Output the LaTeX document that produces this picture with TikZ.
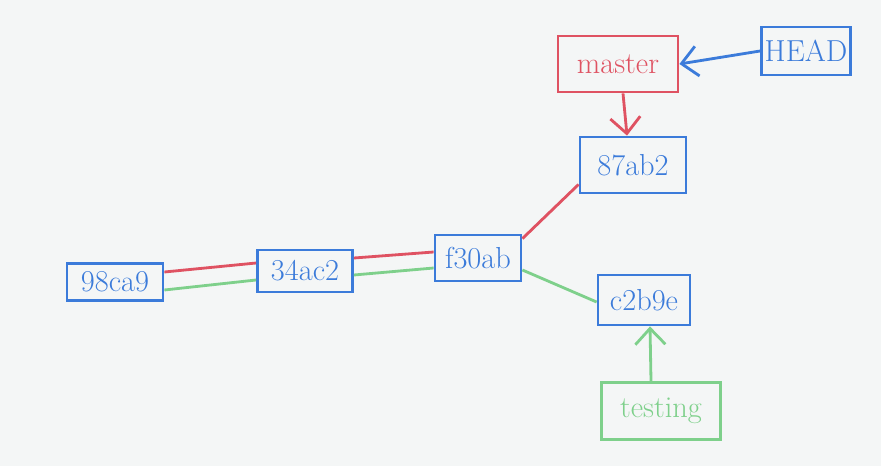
\documentclass[tikz,border=0pt]{standalone}
\usepackage{tikz}
\usetikzlibrary{arrows.meta}

\definecolor{paper}{HTML}{F4F6F6}
\definecolor{gitblue}{HTML}{3B7BDA}
\definecolor{gitred}{HTML}{DF5262}
\definecolor{gitgreen}{HTML}{7ED08B}

\begin{document}
\begin{tikzpicture}[
		x=0.02cm, y=-0.02cm,
		commit/.style ={rectangle,	draw=gitblue,	line width=1.6pt,	inner sep=0pt,	text=gitblue,	font=\LARGE},
		branch/.style ={rectangle,	draw=gitred,	line width=1.6pt,	inner sep=0pt,	text=gitred,	font=\LARGE},
		pointer/.style={line width=1.6pt,	-{Straight Barb[length=3.2mm, width=6mm]}},
	]

	% paper
	\fill [paper] (0,0) rectangle (881,466);
	\useasboundingbox (0,0) rectangle (881,466);

	% commits
	\node [commit, minimum width=1.92cm, minimum height=0.74cm] (c98ca9) at (115,282) {98ca9};
	\node [commit, minimum width=1.90cm, minimum height=0.84cm] (c34ac2) at (305,271) {34ac2};
	\node [commit, minimum width=1.72cm, minimum height=0.92cm] (cf30ab) at (478,258) {f30ab};
	\node [commit, minimum width=2.12cm, minimum height=1.12cm] (c87ab2) at (633,165) {87ab2};
	\node [commit, minimum width=1.84cm, minimum height=1.00cm] (cc2b9e) at (644,300) {c2b9e};

	% branches
	\node [branch, minimum width=2.40cm, minimum height=1.12cm] (master) at (618,64) {master};
	\node [commit, minimum width=1.78cm, minimum height=0.96cm] (head) at (806,51) {HEAD};
	\node [branch, draw=gitgreen, text=gitgreen, minimum width=2.38cm, minimum height=1.14cm] (testing) at (661,411) {testing};

	% history
	\draw [gitred, line width=1.6pt] ([yshift=0.20cm]c98ca9.east) -- ([yshift=0.16cm]c34ac2.west);
	\draw [gitgreen, line width=1.6pt] ([yshift=-0.16cm]c98ca9.east) -- ([yshift=-0.18cm]c34ac2.west);
	\draw [gitred, line width=1.6pt] ([yshift=0.26cm]c34ac2.east) -- ([yshift=0.12cm]cf30ab.west);
	\draw [gitgreen, line width=1.6pt] ([yshift=-0.08cm]c34ac2.east) -- ([yshift=-0.20cm]cf30ab.west);
	\draw [gitred, line width=1.6pt] ([yshift=-0.10cm]cf30ab.north east) -- ([yshift=0.20cm]c87ab2.south west);
	\draw [gitgreen, line width=1.6pt] ([yshift=-0.24cm]cf30ab.east) -- ([yshift=-0.04cm]cc2b9e.west);

	% pointers
	\draw [pointer, gitred] ([xshift=0.10cm]master.south) -- ([xshift=-0.12cm]c87ab2.north);
	\draw [pointer, gitblue] (head.west) -- (master.east);
	\draw [pointer, gitgreen] ([xshift=-0.20cm]testing.north) -- ([xshift=0.12cm]cc2b9e.south);

\end{tikzpicture}
\end{document}
